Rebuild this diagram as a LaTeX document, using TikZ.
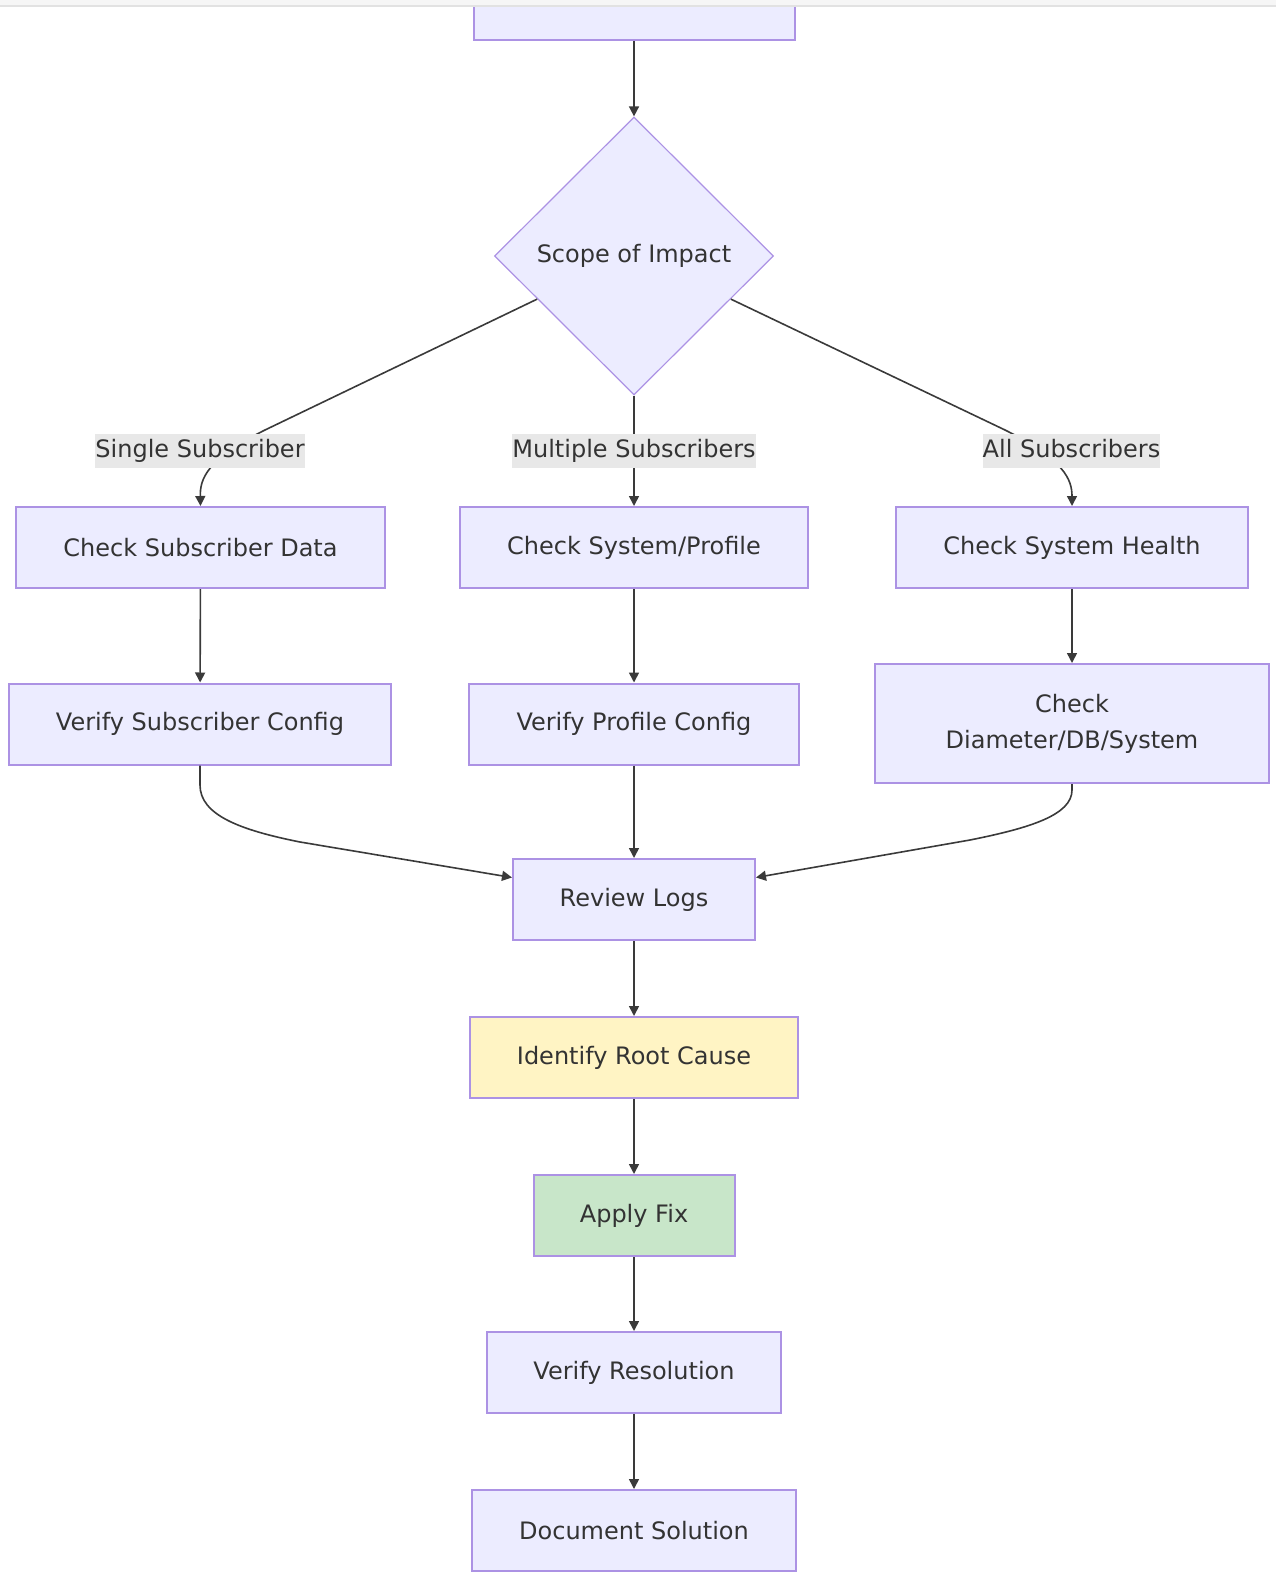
\documentclass[tikz,border=0pt]{standalone}
\usepackage{fontspec}
\setmainfont{DejaVu Sans}
\usetikzlibrary{shapes.geometric,arrows.meta}
\definecolor{nodefill}{HTML}{ECECFF}
\definecolor{nodeline}{HTML}{AC92E4}
\definecolor{edgecol}{HTML}{3A3A3A}
\definecolor{txt}{HTML}{333333}
\definecolor{lblbg}{HTML}{E8E8E8}
\definecolor{rootfill}{HTML}{FFF4C4}
\definecolor{fixfill}{HTML}{C8E6C9}
\definecolor{bandfill}{HTML}{F6F6F6}
\definecolor{bandline}{HTML}{E2E2E2}
\begin{document}
\begin{tikzpicture}[x=0.5pt,y=-0.5pt, font=\fontsize{12pt}{18pt}\selectfont, text=txt,
 box/.style={draw=nodeline, fill=nodefill, line width=1pt, minimum height=40.5pt, inner sep=0pt, align=center},
 dec/.style={diamond, draw=nodeline, fill=nodefill, line width=0.6pt, minimum width=139.5pt, minimum height=139pt, inner sep=0pt, aspect=1},
 edge/.style={draw=edgecol, line width=0.8pt, -{Triangle[length=5pt,width=5pt]}},
 lbl/.style={fill=lblbg, inner xsep=0pt, inner ysep=2pt, text height=9.5pt, text depth=3pt}]
\useasboundingbox (0,0) rectangle (1276,1572);
\node[box, minimum width=160.5pt] (top) at (634,-0.5) {};
\node[dec] (dia) at (634,256) {Scope of Impact};
\node[box, minimum width=184.5pt] (csd) at (200.5,547.5) {Check Subscriber Data};
\node[box, minimum width=174pt] (csp) at (634,547.5) {Check System/Profile};
\node[box, minimum width=176pt] (csh) at (1072,547.5) {Check System Health};
\node[box, minimum width=191pt] (vsc) at (200,724) {Verify Subscriber Config};
\node[box, minimum width=165pt] (vpc) at (634,724) {Verify Profile Config};
\node[box, minimum width=197pt, minimum height=59.5pt] (cdds) at (1072,723.5) {Check\\Diameter/DB/System};
\node[box, minimum width=121pt] (rl) at (634,899.5) {Review Logs};
\node[box, minimum width=164pt, fill=rootfill] (irc) at (634,1057.5) {Identify Root Cause};
\node[box, minimum width=100.5pt, fill=fixfill] (af) at (634,1215.5) {Apply Fix};
\node[box, minimum width=147pt] (vr) at (634,1372.5) {Verify Resolution};
\node[box, minimum width=162pt] (ds) at (634,1530.5) {Document Solution};
% edges
\draw[edge] (top) -- (dia);
\draw[edge] (dia.204) -- (265,430) .. controls (205,460) and (200,480) .. (csd.north);
\draw[edge] (dia.south) -- (csp.north);
\draw[edge] (dia.336) -- (1005,430) .. controls (1065,460) and (1072,480) .. (csh.north);
\node[lbl] (l1) at (200,451) {Single Subscriber};
\node[lbl] (l2) at (634,451) {Multiple Subscribers};
\node[lbl] (l3) at (1071.5,451) {All Subscribers};
\draw[edge] (csd) -- (vsc);
\draw[edge] (csp) -- (vpc);
\draw[edge] (csh) -- (cdds);
\draw[edge] (vpc) -- (rl);
\draw[edge] (vsc.south) -- (200,785) .. controls (200,815) and (240,830) .. (300,842) -- ([yshift=11pt]rl.west);
\draw[edge] (cdds.south) -- (1072,790) .. controls (1072,815) and (1030,828) .. (970,840) -- ([yshift=11pt]rl.east);
\draw[edge] (rl) -- (irc);
\draw[edge] (irc) -- (af);
\draw[edge] (af) -- (vr);
\draw[edge] (vr) -- (ds);
% top band
\fill[bandfill] (0,0) rectangle (1276,6);
\draw[bandline, line width=0.6pt] (0,6) -- (1276,6);
\end{tikzpicture}
\end{document}
